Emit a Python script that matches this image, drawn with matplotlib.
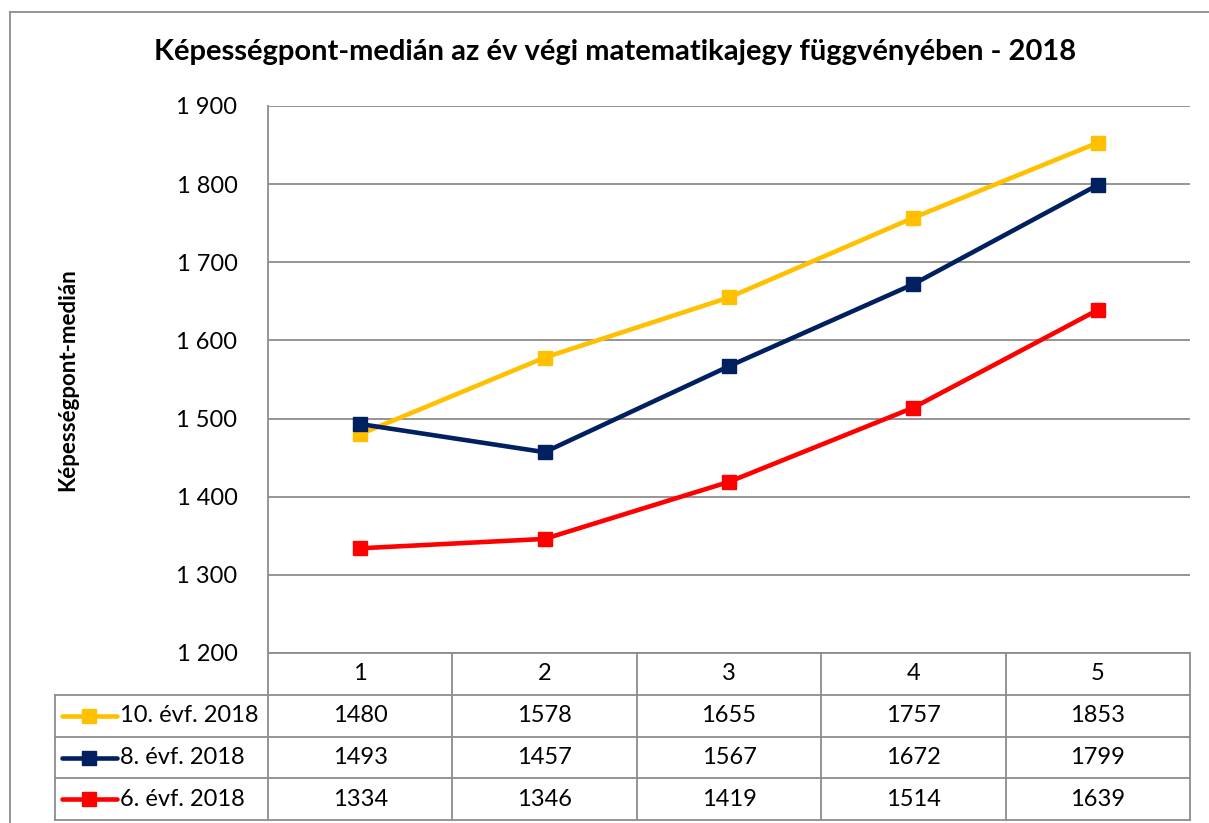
import numpy as np
import matplotlib.pyplot as plt
from matplotlib.lines import Line2D
from matplotlib.ticker import FuncFormatter

# adatok
jegyek = ['1', '2', '3', '4', '5']
sorozatok = ['10. évf. 2018', '8. évf. 2018', '6. évf. 2018']
evf10 = [1480, 1578, 1655, 1757, 1853]
evf8 = [1493, 1457, 1567, 1672, 1799]
evf6 = [1334, 1346, 1419, 1514, 1639]
szinek = ['#FFC000', '#002060', '#FF0000']

plt.rcParams['font.family'] = ['Lato', 'DejaVu Sans']

W, H = 1209, 823
fig = plt.figure(figsize=(W / 100, H / 100), dpi=100)


def fx(x):
    return x / W


def fy(y):
    return 1 - y / H


racs = '#8c8c8c'

# rajzterület
left, right, top, bottom = 268, 1190, 106, 653
ax = fig.add_axes([fx(left), fy(bottom), fx(right - left), (bottom - top) / H])
x = np.arange(1, len(jegyek) + 1)
for vals, c in zip([evf10, evf8, evf6], szinek):
    ax.plot(x, vals, color=c, lw=3.3, marker='s', ms=10, zorder=3)
ax.set_xlim(0.5, len(jegyek) + 0.5)
ax.set_ylim(1200, 1900)
ax.set_yticks(np.arange(1200, 1901, 100))
ax.yaxis.set_major_formatter(FuncFormatter(lambda v, p: f'{v:,.0f}'.replace(',', ' ')))
ax.set_xticks([])
ax.grid(axis='y', color=racs, lw=1.3)
ax.set_axisbelow(True)
for s in ['top', 'right', 'bottom']:
    ax.spines[s].set_visible(False)
ax.spines['left'].set_color(racs)
ax.spines['left'].set_linewidth(1.3)
ax.tick_params(axis='y', length=0, pad=22, labelsize=17)

ax.set_ylabel('Képességpont-medián', fontsize=16, fontweight='bold')
ax.yaxis.set_label_coords((78 - left) / (right - left), 0.5)

fig.text(fx(615), fy(52), 'Képességpont-medián az év végi matematikajegy függvényében - 2018',
         ha='center', va='center', fontsize=21, fontweight='bold')

# külső keret
fig.add_artist(Line2D([fx(10), fx(10)], [fy(12), fy(H)], color=racs, lw=1.3))
fig.add_artist(Line2D([fx(10), fx(W)], [fy(12), fy(12)], color=racs, lw=1.3))

# adattábla
col_edges = np.linspace(left, right, len(jegyek) + 1)
row_edges = [653, 695, 737, 778, 820]
leg_left = 55


def hline(x0, x1, y):
    fig.add_artist(Line2D([fx(x0), fx(x1)], [fy(y), fy(y)], color=racs, lw=1.3))


def vline(x, y0, y1):
    fig.add_artist(Line2D([fx(x), fx(x)], [fy(y0), fy(y1)], color=racs, lw=1.3))


hline(left, right, row_edges[0])
for y in row_edges[1:]:
    hline(leg_left, right, y)
for xe in col_edges:
    vline(xe, row_edges[0], row_edges[-1])
vline(leg_left, row_edges[1], row_edges[-1])

col_centers = (col_edges[:-1] + col_edges[1:]) / 2
for xc, j in zip(col_centers, jegyek):
    fig.text(fx(xc), fy((row_edges[0] + row_edges[1]) / 2), j, ha='center', va='center', fontsize=17)

for i, (nev, vals, c) in enumerate(zip(sorozatok, [evf10, evf8, evf6], szinek)):
    yc = (row_edges[i + 1] + row_edges[i + 2]) / 2
    fig.add_artist(Line2D([fx(62), fx(117)], [fy(yc), fy(yc)], color=c, lw=3.3,
                          solid_capstyle='round'))
    fig.add_artist(Line2D([fx(89)], [fy(yc)], color=c, marker='s', ms=10))
    fig.text(fx(120), fy(yc), nev, ha='left', va='center', fontsize=17)
    for xc, v in zip(col_centers, vals):
        fig.text(fx(xc), fy(yc), str(v), ha='center', va='center', fontsize=17)

fig.savefig('out.png', dpi=100, facecolor='white')
